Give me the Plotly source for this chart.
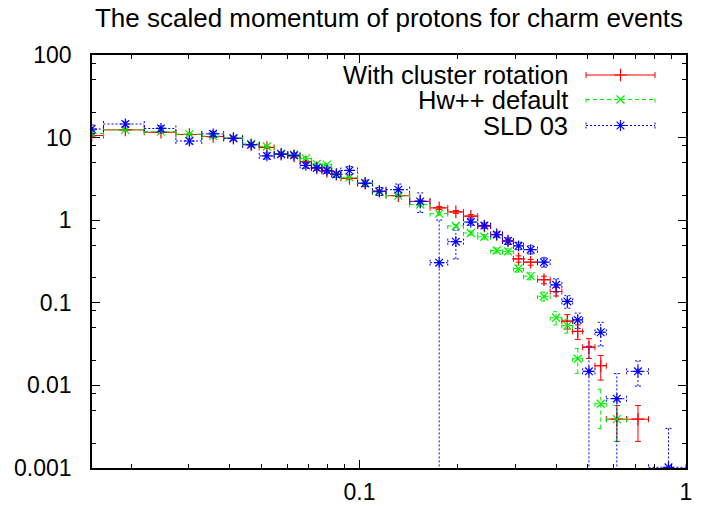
import math
import plotly.graph_objects as go

title_text = "The scaled momentum of protons for charm events"
series_names = ["With cluster rotation", "Hw++ default", "SLD 03"]

# bin edges in x_p (common to all three series)
bin_edges = [0.01382, 0.01645, 0.02193, 0.02741, 0.03289, 0.03838, 0.04386, 0.04934, 0.05482, 0.06031,
             0.06579, 0.07127, 0.07675, 0.08224, 0.08772, 0.09868, 0.1096, 0.1206, 0.1425, 0.1645,
             0.1864, 0.2083, 0.2303, 0.2522, 0.2741, 0.2961, 0.3180, 0.3509, 0.3838, 0.4167,
             0.4496, 0.4825, 0.5263, 0.5702, 0.6579, 0.7675, 1.0]

red_y = [10.6, 12.4, 11.6, 10.9, 10.3, 9.8, 8.2, 7.6, 6.3, 6.0,
         5.1, 4.3, 3.9, 3.6, 3.2, 2.8, 2.24, 1.98, 1.69, 1.41,
         1.26, 1.12, 0.85, 0.67, 0.56, 0.34, 0.31, 0.19, 0.137, 0.060,
         0.045, 0.029, 0.0173, 0.0039, 0.0039, None]
red_err = [0.25, 0.25, 0.23, 0.22, 0.2, 0.2, 0.17, 0.16, 0.13, 0.13,
           0.11, 0.1, 0.09, 0.09, 0.08, 0.07, 0.06, 0.05, 0.05, 0.06,
           0.05, 0.05, 0.04, 0.03, 0.03, 0.03, 0.025, 0.02, 0.016, 0.012,
           0.009, 0.0078, 0.0057, 0.0018, 0.0018, None]

green_y = [11.2, 12.4, 11.8, 11.0, 10.4, 9.9, 8.4, 7.8, 6.4, 6.2,
           5.6, 4.8, 4.7, 3.6, 3.3, 2.8, 2.2, 1.98, 1.55, 1.2,
           0.85, 0.70, 0.63, 0.43, 0.42, 0.26, 0.21, 0.12, 0.066, 0.053,
           0.021, None, 0.006, 0.0039, None, None]
green_err = [0.25, 0.25, 0.24, 0.22, 0.21, 0.2, 0.17, 0.16, 0.13, 0.13,
             0.12, 0.1, 0.1, 0.08, 0.07, 0.07, 0.06, 0.05, 0.05, 0.05,
             0.04, 0.04, 0.04, 0.03, 0.03, 0.025, 0.02, 0.015, 0.012, 0.01,
             0.007, None, 0.003, 0.0018, None, None]

blue_y = [12.7, 14.6, 12.9, 9.1, 11.1, 9.8, 8.2, 6.0, 6.3, 6.1,
          4.6, 4.3, 4.0, 3.6, 4.0, 2.8, 2.24, 2.34, 1.69, 0.306,
          0.55, 0.95, 0.86, 0.67, 0.56, 0.49, 0.44, 0.31, 0.165, 0.104,
          0.062, 0.0148, 0.044, 0.0069, 0.0148, 0.00102]
blue_err = [1.5, 1.1, 1.0, 0.7, 0.8, 0.6, 0.5, 0.5, 0.4, 0.4,
            0.35, 0.3, 0.3, 0.3, 0.45, 0.25, 0.25, 0.4, 0.45, 0.7,
            0.21, 0.08, 0.07, 0.05, 0.05, 0.05, 0.05, 0.04, 0.03, 0.018,
            0.013, 0.015, 0.014, 0.007, 0.005, 0.002]

x_tick_vals = [0.1, 1]
x_tick_text = ["0.1", "1"]
y_tick_vals = [0.001, 0.01, 0.1, 1, 10, 100]
y_tick_text = ["0.001", "0.01", "0.1", "1", "10", "100"]

# ---- layout geometry ----
W, H = 716, 508
ML, MR, MT, MB = 92, 30, 55, 40
PW, PH = W - ML - MR, H - MT - MB
X_RANGE = [math.log10(0.01517), 0.0]
Y_RANGE = [-3.0, 2.0]
ppd_x = PW / (X_RANGE[1] - X_RANGE[0])
ppd_y = PH / (Y_RANGE[1] - Y_RANGE[0])
CAP = 3.0
cx = 10 ** (CAP / ppd_x)
cy = 10 ** (CAP / ppd_y)

FONT = "Liberation Sans, Arial, Helvetica, sans-serif"

styles = [
    dict(color="#ff0000", dash="solid", symbol="cross-thin-open", size=9),
    dict(color="#00ee00", dash="4px,3px", symbol="x-thin-open", size=8),
    dict(color="#0000ff", dash="2px,2px", symbol="asterisk-open", size=9),
]


def bar_segments(yv, ev):
    xs, ys, mx, my = [], [], [], []
    for i, (y, e) in enumerate(zip(yv, ev)):
        if y is None:
            continue
        lo, hi = bin_edges[i], bin_edges[i + 1]
        xc = 0.5 * (lo + hi)
        mx.append(xc)
        my.append(y)
        # horizontal bar (bin width) with end ticks
        xs += [lo, hi, None, lo, lo, None, hi, hi, None]
        ys += [y, y, None, y / cy, y * cy, None, y / cy, y * cy, None]
        # vertical error bar with end ticks
        ylo = max(y - e, 1e-7)
        yhi = y + e
        xs += [xc, xc, None, xc / cx, xc * cx, None]
        ys += [ylo, yhi, None, yhi, yhi, None]
        if y - e > 0:
            xs += [xc / cx, xc * cx, None]
            ys += [ylo, ylo, None]
    return xs, ys, mx, my


fig = go.Figure()
data_sets = [(red_y, red_err), (green_y, green_err), (blue_y, blue_err)]
for (yv, ev), st, nm in zip(data_sets, styles, series_names):
    xs, ys, mx, my = bar_segments(yv, ev)
    fig.add_trace(go.Scatter(x=xs, y=ys, mode="lines", name=nm, showlegend=False,
                             line=dict(color=st["color"], width=1, dash=st["dash"]),
                             hoverinfo="skip"))
    fig.add_trace(go.Scatter(x=mx, y=my, mode="markers", name=nm, showlegend=False,
                             marker=dict(symbol=st["symbol"], size=st["size"], color=st["color"],
                                         line=dict(color=st["color"], width=1.2))))

# ---- custom legend (text left, sample right), drawn on an overlay axis ----
leg_rows_px = [75, 99.5, 125.5]
leg_text_right_px = 570
leg_x0_px, leg_x1_px, leg_xm_px = 586, 655, 620.5
def px_to_fx(px):
    return (px - ML) / PW
def py_to_fy(py):
    return (H - MB - py) / PH
capf = CAP / PH
for st, nm, rp in zip(styles, series_names, leg_rows_px):
    fy = py_to_fy(rp)
    x0, x1, xm = px_to_fx(leg_x0_px), px_to_fx(leg_x1_px), px_to_fx(leg_xm_px)
    fig.add_trace(go.Scatter(
        x=[x0, x1, None, x0, x0, None, x1, x1],
        y=[fy, fy, None, fy - capf, fy + capf, None, fy - capf, fy + capf],
        mode="lines", xaxis="x2", yaxis="y2", showlegend=False, hoverinfo="skip",
        line=dict(color=st["color"], width=1, dash=st["dash"])))
    fig.add_trace(go.Scatter(
        x=[xm], y=[fy], mode="markers", xaxis="x2", yaxis="y2", showlegend=False,
        hoverinfo="skip",
        marker=dict(symbol=st["symbol"], size=st["size"], color=st["color"],
                    line=dict(color=st["color"], width=1.2))))
    fig.add_annotation(text=nm, xref="paper", yref="paper", x=px_to_fx(leg_text_right_px), y=fy,
                       xanchor="right", yanchor="middle", showarrow=False,
                       font=dict(family=FONT, size=25.5, color="black"))

x_minor = [0.02, 0.03, 0.04, 0.05, 0.06, 0.07, 0.08, 0.09,
           0.2, 0.3, 0.4, 0.5, 0.6, 0.7, 0.8, 0.9]
y_minor = [0.002, 0.005, 0.008, 0.02, 0.05, 0.08, 0.2, 0.5, 0.8,
           2, 5, 8, 20, 50, 80]

fig.update_layout(
    width=W, height=H,
    margin=dict(l=ML, r=MR, t=MT, b=MB, pad=0, autoexpand=False),
    paper_bgcolor="white", plot_bgcolor="white",
    font=dict(family=FONT, size=23, color="black"),
    title=dict(text=title_text, x=0.5, xref="paper", xanchor="center",
               y=1 - 18 / H, yref="container", yanchor="middle",
               font=dict(family=FONT, size=26, color="black")),
    xaxis=dict(type="log", range=X_RANGE, showgrid=False, zeroline=False, automargin=False,
               showline=True, linecolor="black", linewidth=1.5, mirror="ticks",
               ticks="inside", ticklen=8, tickwidth=1, tickcolor="black",
               tickmode="array", tickvals=x_tick_vals, ticktext=x_tick_text,
               ticklabelstandoff=3,
               minor=dict(tickmode="array", tickvals=x_minor, ticks="inside",
                          ticklen=4, tickcolor="black", tickwidth=1, showgrid=False),
               tickfont=dict(family=FONT, size=23, color="black")),
    yaxis=dict(type="log", range=Y_RANGE, showgrid=False, zeroline=False, automargin=False,
               showline=True, linecolor="black", linewidth=1.5, mirror="ticks",
               ticks="inside", ticklen=8, tickwidth=1, tickcolor="black",
               tickmode="array", tickvals=y_tick_vals, ticktext=y_tick_text,
               ticklabelstandoff=14,
               minor=dict(tickmode="array", tickvals=y_minor, ticks="inside",
                          ticklen=4, tickcolor="black", tickwidth=1, showgrid=False),
               tickfont=dict(family=FONT, size=23, color="black")),
    xaxis2=dict(overlaying="x", range=[0, 1], visible=False, fixedrange=True),
    yaxis2=dict(overlaying="y", range=[0, 1], visible=False, fixedrange=True),
    showlegend=False,
)

fig.write_html("out.html", config={"displayModeBar": False},
               post_script="document.body.style.margin='0';document.body.style.overflow='hidden';")
